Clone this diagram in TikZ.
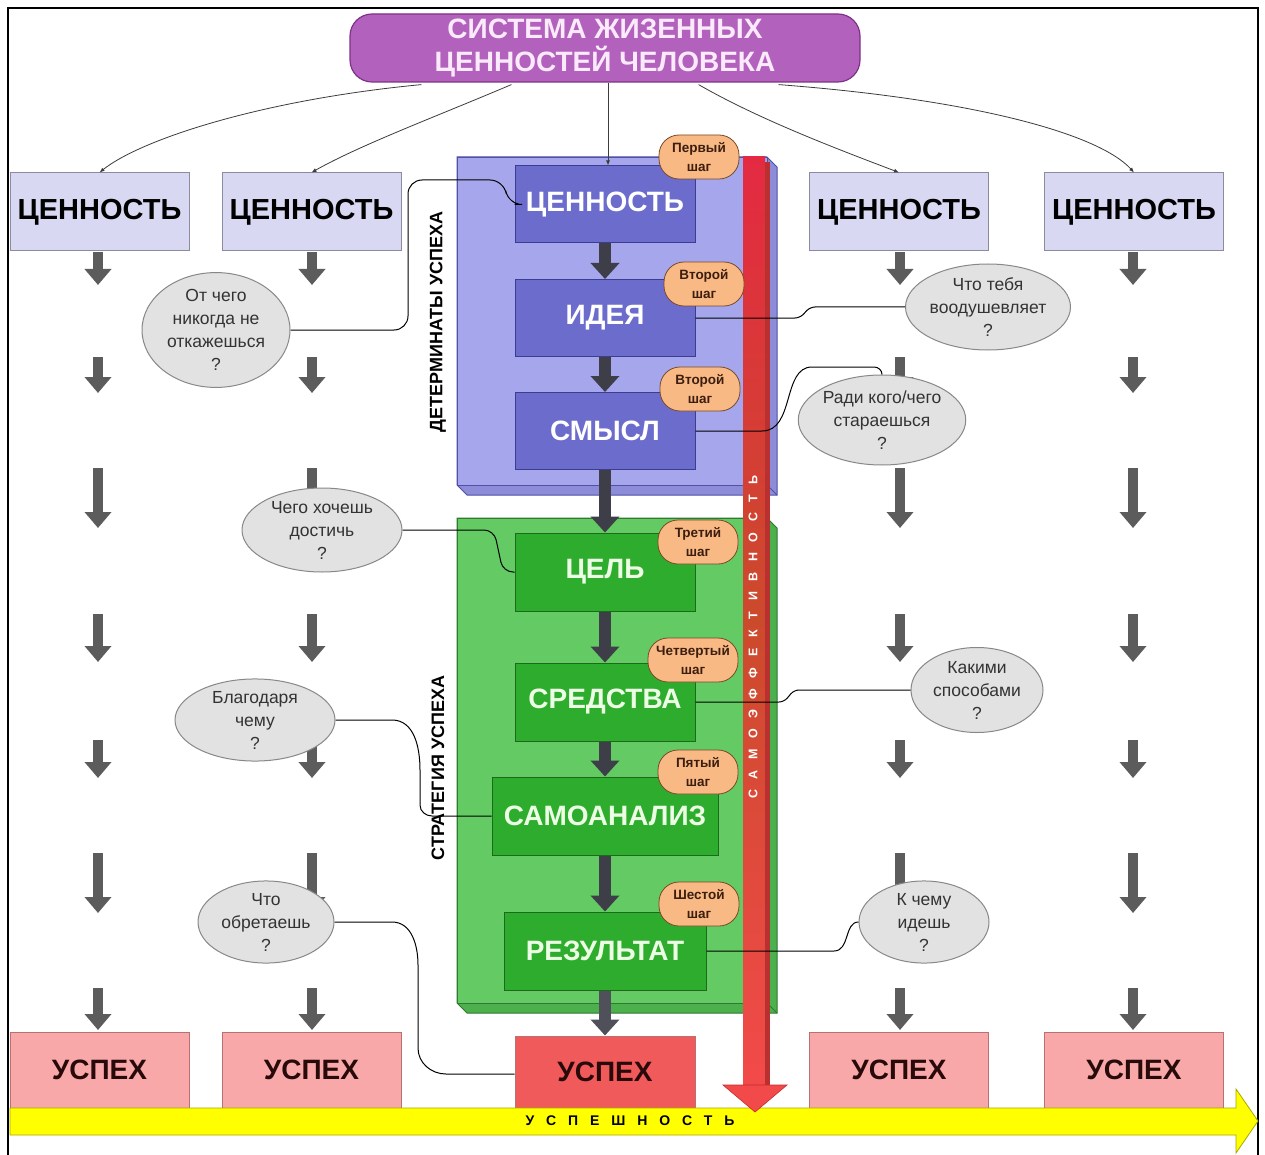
\documentclass[tikz,border=0pt]{standalone}
\usepackage{fontspec}
\setmainfont{Liberation Sans}
\usetikzlibrary{shapes.geometric,arrows.meta}
\definecolor{titlefill}{HTML}{B262BC}
\definecolor{titleline}{HTML}{7E3288}
\definecolor{titletext}{HTML}{FBEAFB}
\definecolor{sidefill}{HTML}{D8D8F2}
\definecolor{sideline}{HTML}{8A8AA0}
\definecolor{bluepanel}{HTML}{A6A6EC}
\definecolor{bluedepth}{HTML}{8C8CD8}
\definecolor{blueline}{HTML}{5050A8}
\definecolor{blueinner}{HTML}{6C6CCC}
\definecolor{blueinline}{HTML}{3C3C90}
\definecolor{greenpanel}{HTML}{64CA64}
\definecolor{greendepth}{HTML}{4CB04C}
\definecolor{greenline}{HTML}{2E7A2E}
\definecolor{greeninner}{HTML}{2EAC2E}
\definecolor{greeninline}{HTML}{1C6A1C}
\definecolor{pillfill}{HTML}{F9B984}
\definecolor{pillline}{HTML}{7A4A28}
\definecolor{qfill}{HTML}{E2E2E2}
\definecolor{qline}{HTML}{888888}
\definecolor{qtext}{HTML}{333333}
\definecolor{pinkfill}{HTML}{F8A8A8}
\definecolor{pinkline}{HTML}{B87070}
\definecolor{redbox}{HTML}{F05A5A}
\definecolor{colarrow}{HTML}{5C5C5C}
\definecolor{flowarrow}{HTML}{3E3E48}
\definecolor{yel}{HTML}{FFFF00}
\definecolor{yelline}{HTML}{A8A800}
\definecolor{redtop}{HTML}{E42A42}
\definecolor{redmid}{HTML}{CC4A2C}
\definecolor{redbot}{HTML}{F24A4A}
\definecolor{reddark}{HTML}{B83030}
\tikzset{
  sidebox/.style={draw=sideline, fill=sidefill, line width=1pt, minimum width=179pt, minimum height=78pt, inner sep=0pt, font=\fontsize{29}{31}\selectfont\bfseries, text=black},
  bluebox/.style={draw=blueinline, fill=blueinner, line width=1pt, minimum width=180pt, minimum height=77pt, inner sep=0pt, font=\fontsize{28}{30}\selectfont\bfseries, text=white},
  greenbox/.style={draw=greeninline, fill=greeninner, line width=1pt, minimum height=78pt, inner sep=0pt, font=\fontsize{28}{30}\selectfont\bfseries, text={rgb,255:red,236;green,255;blue,228}},
  succbox/.style={draw=pinkline, fill=pinkfill, line width=1pt, minimum width=179pt, minimum height=76pt, inner sep=0pt, font=\fontsize{28}{30}\selectfont\bfseries, text={rgb,255:red,40;green,10;blue,10}},
  pill/.style={draw=pillline, fill=pillfill, line width=0.8pt, rounded corners=20pt, minimum width=80pt, minimum height=44pt, inner sep=0pt, align=center, font=\fontsize{13.5}{19}\selectfont\bfseries, text={rgb,255:red,60;green,30;blue,15}},
  qell/.style={ellipse, draw=qline, fill=qfill, line width=1pt, inner sep=0pt, align=center, font=\fontsize{17.5}{23}\selectfont, text=qtext},
  thinarr/.style={draw={rgb,255:red,60;green,60;blue,60}, line width=0.8pt, -{Latex[length=5pt,width=4pt]}},
  conn/.style={draw=black, line width=1pt},
  flowarr/.style={draw=flowarrow, line width=12pt, -{Triangle[width=28pt,length=16pt]}},
  colarr/.style={draw=colarrow, line width=10pt, -{Triangle[width=26pt,length=16pt]}},
  vlabel/.style={rotate=90, font=\fontsize{18}{20}\selectfont\bfseries, text=black, inner sep=0pt}
}
\begin{document}
\begin{tikzpicture}[x=1pt,y=-1pt]
\useasboundingbox (0,0) rectangle (1265,1155);
\fill[white] (0,0) rectangle (1265,1155);
% frame
\draw[line width=2pt] (8,1160) -- (8,8) -- (1258,8) -- (1258,1160);

% side column arrows
\foreach \cx in {98,312,900,1133}{
  \foreach \ya/\yb in {252/285, 357/393, 468/528, 614/662, 740/778, 853/913, 988/1030}{
    \draw[colarr] (\cx,\ya) -- (\cx,\yb);
  }
}

% panels
\fill[bluedepth, draw=blueline, line width=1pt] (457,157) -- (767,157) -- (777,167) -- (777,495) -- (467,495) -- (457,485) -- cycle;
\node[draw=blueline, fill=bluepanel, line width=1pt, minimum width=310pt, minimum height=328pt, inner sep=0pt, anchor=north west] (detpanel) at (457,157) {};
\draw[blueline, line width=1pt] (767,485) -- (777,495);
\fill[greendepth, draw=greenline, line width=1pt] (457,518) -- (767,518) -- (777,528) -- (777,1013) -- (467,1013) -- (457,1003) -- cycle;
\node[draw=greenline, fill=greenpanel, line width=1pt, minimum width=310pt, minimum height=485pt, inner sep=0pt, anchor=north west] (strpanel) at (457,518) {};
\draw[greenline, line width=1pt] (767,1003) -- (777,1013);

\node[vlabel] (detlabel) at (438,322) {ДЕТЕРМИНАТЫ УСПЕХА};
\node[vlabel] (strlabel) at (438,768) {СТРАТЕГИЯ УСПЕХА};

% title
\node[draw=titleline, fill=titlefill, line width=1.2pt, rounded corners=22pt, minimum width=510pt, minimum height=68pt, inner sep=0pt, align=center, font=\fontsize{28}{33}\selectfont\bfseries, text=titletext] (title) at (605,48) {СИСТЕМА ЖИЗЕННЫХ\\ЦЕННОСТЕЙ ЧЕЛОВЕКА};

% side value boxes
\node[sidebox] (sv1) at (99.5,212) {ЦЕННОСТЬ};
\node[sidebox] (sv2) at (311.5,212) {ЦЕННОСТЬ};
\node[sidebox] (sv3) at (899,212) {ЦЕННОСТЬ};
\node[sidebox] (sv4) at (1134,212) {ЦЕННОСТЬ};

% success boxes
\node[succbox] (us1) at (99.5,1070) {УСПЕХ};
\node[succbox] (us2) at (311.5,1070) {УСПЕХ};
\node[succbox] (us3) at (899,1070) {УСПЕХ};
\node[succbox] (us4) at (1134,1070) {УСПЕХ};
\node[succbox, fill=redbox, minimum width=180pt, minimum height=72pt] (usc) at (605,1072) {УСПЕХ};

% yellow arrow
\fill[yel, draw=yelline, line width=0.8pt] (10,1108) -- (1236,1108) -- (1236,1089) -- (1258,1121) -- (1236,1153) -- (1236,1135) -- (10,1135) -- cycle;
\node[font=\fontsize{14}{15}\selectfont\bfseries\addfontfeature{LetterSpace=85}, text=black, inner sep=0pt] (uspesh) at (630,1121) {УСПЕШНОСТЬ};

% red arrow
\shade[top color=redtop, bottom color=redbot, middle color=redmid] (743,157) rectangle (765,1086);
\fill[reddark] (765,162) rectangle (770,1086);
\fill[redbot, draw={rgb,255:red,200;green,40;blue,40}, line width=0.6pt] (723,1085) -- (787,1085) -- (755,1112) -- cycle;
\node[rotate=90, font=\fontsize{12.5}{13}\selectfont\bfseries\addfontfeature{LetterSpace=85}, text=white, inner sep=0pt] (samoef) at (753,637) {САМОЭФФЕКТИВНОСТЬ};

% inner boxes
\node[bluebox] (val) at (605,204.5) {ЦЕННОСТЬ};
\node[bluebox] (idea) at (605,318) {ИДЕЯ};
\node[bluebox] (smysl) at (605,431) {СМЫСЛ};
\node[greenbox, minimum width=180pt] (cel) at (605,572) {ЦЕЛЬ};
\node[greenbox, minimum width=180pt] (sred) at (605,702) {СРЕДСТВА};
\node[greenbox, minimum width=226pt] (samo) at (605,816) {САМОАНАЛИЗ};
\node[greenbox, minimum width=202pt] (rez) at (605,951) {РЕЗУЛЬТАТ};

% flow arrows
\draw[flowarr] (val.south) -- (idea.north);
\draw[flowarr] (idea.south) -- (smysl.north);
\draw[flowarr] (smysl.south) -- (cel.north);
\draw[flowarr] (cel.south) -- (sred.north);
\draw[flowarr] (sred.south) -- (samo.north);
\draw[flowarr] (samo.south) -- (rez.north);
\draw[flowarr, draw={rgb,255:red,80;green,80;blue,90}] (rez.south) -- (usc.north);

% title arrows
\draw[thinarr] (title.south) ++(3,0) coordinate (tc) (tc) -- (val.north -| tc);
\draw[thinarr] (title.south west) ++(72,2) coordinate (t1) (t1) .. controls (260,100) and (140,140) .. (sv1.north);
\draw[thinarr] (title.south west) ++(162,2) coordinate (t2) (t2) .. controls (440,115) and (360,145) .. (sv2.north);
\draw[thinarr] (title.south east) ++(-162,2) coordinate (t3) (t3) .. controls (760,120) and (840,150) .. (sv3.north);
\draw[thinarr] (title.south east) ++(-82,2) coordinate (t4) (t4) .. controls (980,100) and (1100,135) .. (sv4.north);

% question ellipses
\node[qell, minimum width=148pt, minimum height=100pt] (q1) at (216,330) {От чего\\никогда не\\откажешься\\?};
\node[qell, minimum width=165pt, minimum height=86pt] (q2) at (988,307) {Что тебя\\воодушевляет\\?};
\node[qell, minimum width=165pt, minimum height=90pt] (q3) at (882,420) {Ради кого/чего\\стараешься\\?};
\node[qell, minimum width=160pt, minimum height=84pt] (q4) at (322,530) {Чего хочешь\\достичь\\?};
\node[qell, minimum width=160pt, minimum height=82pt] (q5) at (255,720) {Благодаря\\чему\\?};
\node[qell, minimum width=132pt, minimum height=85pt] (q6) at (977,690) {Какими\\способами\\?};
\node[qell, minimum width=136pt, minimum height=82pt] (q7) at (266,922) {Что\\обретаешь\\?};
\node[qell, minimum width=130pt, minimum height=80pt] (q8) at (924,922) {К чему\\идешь\\?};

% connectors
\draw[conn, rounded corners=14pt] (q1.east) -- (408,330) -- (408,180) -- (504,180) -- (508,204.5) -- (val.west);
\draw[conn, rounded corners=5pt] (idea.east) -- (800,318) -- (810,307) -- (q2.west);
\draw[conn] (smysl.east) -- (762,431) .. controls (795,431) and (782,367) .. (812,367) -- (874,367) to[out=0,in=90] (q3.north);
\draw[conn, rounded corners=10pt] (q4.east) -- (494,530) -- (503,572) -- (cel.west);
\draw[conn, rounded corners=5pt] (sred.east) -- (784,702) -- (794,690) -- (q6.west);
\draw[conn] (q5.east) -- (392,720) to[out=0,in=90] (420,770) -- (420,805) to[out=-90,in=180] (432,816) -- (samo.west);
\draw[conn] (q7.east) -- (392,922) to[out=0,in=90] (418,965) -- (418,1048) to[out=-90,in=180] (446,1074) -- (usc.west |- 0,1074);
\draw[conn] (rez.east) -- (834,951) .. controls (850,951) and (844,922) .. (q8.west);

% step pills
\node[pill] (p1) at (699,157) {Первый\\шаг};
\node[pill] (p2) at (704,284) {Второй\\шаг};
\node[pill] (p3) at (700,389) {Второй\\шаг};
\node[pill] (p4) at (698,542) {Третий\\шаг};
\node[pill, minimum width=90pt] (p5) at (693,660) {Четвертый\\шаг};
\node[pill] (p6) at (698,772) {Пятый\\шаг};
\node[pill] (p7) at (699,904) {Шестой\\шаг};
\end{tikzpicture}
\end{document}
